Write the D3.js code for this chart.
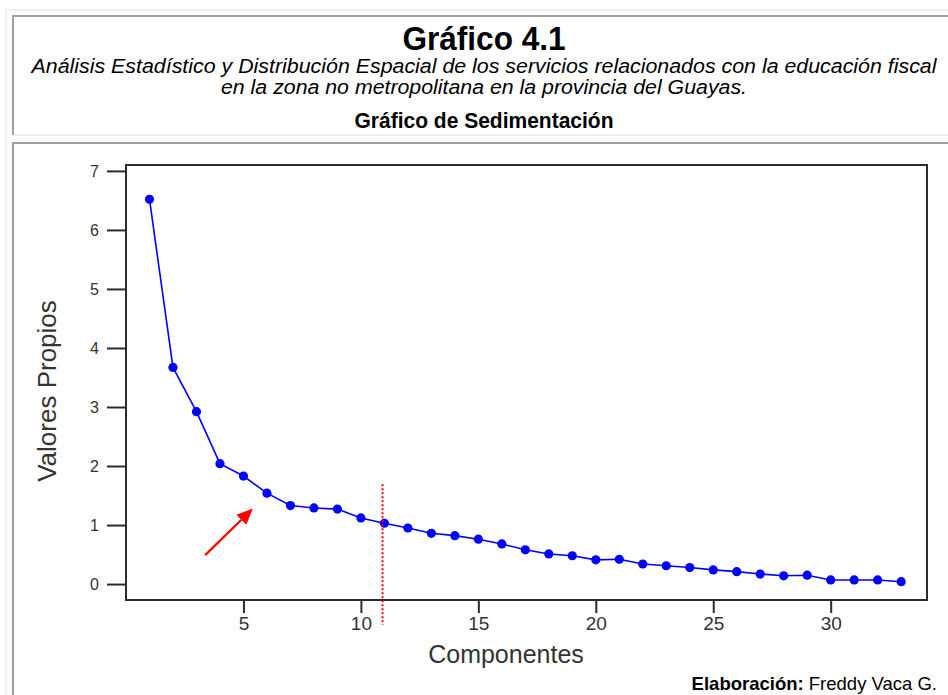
<!DOCTYPE html>
<html>
<head>
<meta charset="utf-8">
<script src="https://cdn.jsdelivr.net/npm/d3@7"></script>
<style>
  html, body { margin: 0; padding: 0; background: #ffffff; }
  svg { display: block; }
  text { font-family: "Liberation Sans", Arial, sans-serif; }
</style>
</head>
<body>
<svg id="chart" width="948" height="695"></svg>
<script>
// ---------- data ----------
const components = [1,2,3,4,5,6,7,8,9,10,11,12,13,14,15,16,17,18,19,20,21,22,23,24,25,26,27,28,29,30,31,32,33];
const eigenvalues = [6.52,3.67,2.92,2.04,1.83,1.54,1.33,1.29,1.27,1.12,1.03,0.95,0.86,0.82,0.76,0.68,0.58,0.51,0.48,0.41,0.42,0.34,0.31,0.28,0.24,0.21,0.17,0.14,0.15,0.07,0.07,0.07,0.04];
const xTicks = [5,10,15,20,25,30];
const yTicks = [0,1,2,3,4,5,6,7];
const cutComponent = [10.92];       // red dotted vertical marker
const cutSpan = [1.69, -0.69];      // its vertical extent (value units)
const arrowFrom = [3.37, 0.49];     // red arrow tail (component, value)
const arrowTo = [5.40, 1.28];       // red arrow tip
const titleText = "Gráfico 4.1";
const subtitleLines = [
  "Análisis Estadístico y Distribución Espacial de los servicios relacionados con la educación fiscal",
  "en la zona no metropolitana en la provincia del Guayas."
];
const chartName = "Gráfico de Sedimentación";
const xLabel = "Componentes";
const yLabel = "Valores Propios";
const creditBold = "Elaboración:";
const creditText = " Freddy Vaca G.";

// ---------- layout ----------
const svg = d3.select("#chart");
const W = 948, H = 695;
const plot = {left: 126, right: 927, top: 165, bottom: 600};

// frame / bevel lines
const light = "#efefef", dark = "#a0a0a0";
svg.append("rect").attr("x", 5).attr("y", 9).attr("width", 2).attr("height", H - 9).attr("fill", light);
svg.append("rect").attr("x", 5).attr("y", 9).attr("width", W - 5).attr("height", 2).attr("fill", light);
svg.append("rect").attr("x", 12).attr("y", 15).attr("width", 2).attr("height", 120).attr("fill", dark);
svg.append("rect").attr("x", 12).attr("y", 15).attr("width", W - 12).attr("height", 2).attr("fill", dark);
svg.append("rect").attr("x", 14).attr("y", 134).attr("width", W - 14).attr("height", 2).attr("fill", light);
svg.append("rect").attr("x", 12).attr("y", 142).attr("width", W - 12).attr("height", 2).attr("fill", dark);
svg.append("rect").attr("x", 12).attr("y", 142).attr("width", 2).attr("height", H - 142).attr("fill", dark);

// header text
const cx = 484;
svg.append("text").attr("x", cx).attr("y", 50).attr("text-anchor", "middle")
  .attr("font-size", 33).attr("font-weight", "bold").attr("fill", "#000")
  .attr("textLength", 163).attr("lengthAdjust", "spacingAndGlyphs").text(titleText);
const subWidths = [905, 526];
svg.selectAll("text.sub").data(subtitleLines).join("text").attr("class", "sub")
  .attr("x", cx).attr("y", (d, i) => 73 + i * 21).attr("text-anchor", "middle")
  .attr("font-size", 20).attr("font-style", "italic").attr("fill", "#000")
  .attr("textLength", (d, i) => subWidths[i]).attr("lengthAdjust", "spacingAndGlyphs")
  .text(d => d);
svg.append("text").attr("x", cx).attr("y", 128).attr("text-anchor", "middle")
  .attr("font-size", 22.5).attr("font-weight", "bold").attr("fill", "#000")
  .attr("textLength", 259).attr("lengthAdjust", "spacingAndGlyphs").text(chartName);

// scales
const x = d3.scaleLinear().domain([0, 34.1]).range([plot.left, plot.right]);
const y = d3.scaleLinear().domain([-0.27, 7.1]).range([plot.bottom, plot.top]);

// axes
const axisColor = "#2b2b2b";
const gy = svg.append("g").attr("transform", `translate(${plot.left},0)`)
  .call(d3.axisLeft(y).tickValues(yTicks).tickSize(19).tickPadding(8).tickSizeOuter(0));
gy.select(".domain").remove();
gy.selectAll("line").attr("stroke", axisColor).attr("stroke-width", 2);
gy.selectAll("text").attr("font-size", 16).attr("fill", "#333")
  .attr("font-family", "'Liberation Sans', Arial, sans-serif");

const gx = svg.append("g").attr("transform", `translate(0,${plot.bottom})`)
  .call(d3.axisBottom(x).tickValues(xTicks).tickSize(13).tickPadding(4).tickSizeOuter(0));
gx.select(".domain").remove();
gx.selectAll("line").attr("stroke", axisColor).attr("stroke-width", 2);
gx.selectAll("text").attr("font-size", 19).attr("fill", "#333")
  .attr("font-family", "'Liberation Sans', Arial, sans-serif");

// plot frame
svg.append("rect").attr("x", plot.left).attr("y", plot.top)
  .attr("width", plot.right - plot.left).attr("height", plot.bottom - plot.top)
  .attr("fill", "none").attr("stroke", axisColor).attr("stroke-width", 2);

// axis titles
svg.append("text").attr("x", 506).attr("y", 663)
  .attr("text-anchor", "middle").attr("font-size", 25).attr("fill", "#333").text(xLabel);
svg.append("text").attr("transform", `translate(56,391) rotate(-90)`)
  .attr("text-anchor", "middle").attr("font-size", 26).attr("fill", "#333").text(yLabel);

// series
const series = components.map((c, i) => ({c, v: eigenvalues[i]}));
svg.append("path").datum(series)
  .attr("fill", "none").attr("stroke", "#0000ff").attr("stroke-width", 1.6)
  .attr("d", d3.line().x(d => x(d.c)).y(d => y(d.v)));
svg.selectAll("circle.pt").data(series).join("circle").attr("class", "pt")
  .attr("cx", d => x(d.c)).attr("cy", d => y(d.v)).attr("r", 4.6).attr("fill", "#0000ff");

// red dotted cut line
svg.selectAll("line.cut").data(cutComponent).join("line").attr("class", "cut")
  .attr("x1", d => x(d)).attr("x2", d => x(d))
  .attr("y1", y(cutSpan[0])).attr("y2", y(cutSpan[1]))
  .attr("stroke", "#ff0000").attr("stroke-width", 2).attr("stroke-dasharray", "2,2");

// red arrow
const ax0 = x(arrowFrom[0]), ay0 = y(arrowFrom[1]);
const ax1 = x(arrowTo[0]), ay1 = y(arrowTo[1]);
const ang = Math.atan2(ay1 - ay0, ax1 - ax0);
const headLen = 16, headHalf = 7;
const bx = ax1 - headLen * Math.cos(ang), by = ay1 - headLen * Math.sin(ang);
svg.append("line").attr("x1", ax0).attr("y1", ay0).attr("x2", bx).attr("y2", by)
  .attr("stroke", "#ff0000").attr("stroke-width", 2.2);
svg.append("polygon")
  .attr("points", [
    [ax1, ay1],
    [bx + headHalf * Math.sin(ang), by - headHalf * Math.cos(ang)],
    [bx - headHalf * Math.sin(ang), by + headHalf * Math.cos(ang)]
  ].map(p => p.join(",")).join(" "))
  .attr("fill", "#ff0000");

// credit
const credit = svg.append("text").attr("x", 937).attr("y", 690).attr("text-anchor", "end")
  .attr("font-size", 18.5).attr("fill", "#000");
credit.append("tspan").attr("font-weight", "bold").text(creditBold);
credit.append("tspan").text(creditText);
</script>
</body>
</html>
